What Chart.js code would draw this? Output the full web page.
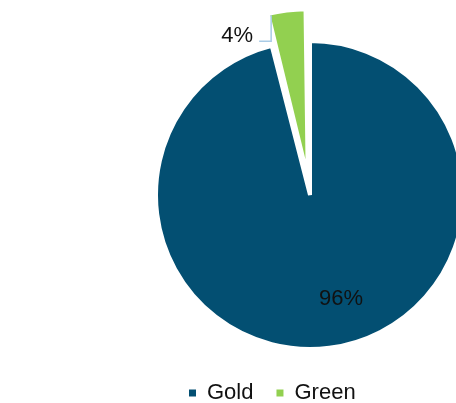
<!DOCTYPE html>
<html lang="en">
<head>
    <meta charset="UTF-8">
    <title>Gold vs Green</title>
    <style>
        html, body { margin: 0; padding: 0; background: #fff; overflow: hidden; }
        #wrap { width: 456px; height: 403px; overflow: hidden; }
    </style>
</head>
<body>
    <div id="wrap">
        <canvas id="pieChart" width="456" height="414"></canvas>
    </div>

    <script src="https://cdn.jsdelivr.net/npm/chart.js"></script>
    <script>
        // Share of each category, in percent
        var categories = ["Gold", "Green"];
        var shares = [96, 4];

        var labelFont = '22px "Liberation Sans", Arial, sans-serif';

        // Percent labels: inside for the big slice, elbow leader line for the small one
        var sliceLabels = {
            id: 'sliceLabels',
            afterDatasetsDraw: function (chart) {
                var ctx = chart.ctx;
                var meta = chart.getDatasetMeta(0);
                ctx.save();
                ctx.font = labelFont;
                ctx.fillStyle = '#111';
                meta.data.forEach(function (arc, i) {
                    var p = arc.getProps(['x', 'y', 'startAngle', 'endAngle', 'outerRadius', 'circumference'], true);
                    var off = arc.options.offset || 0;
                    var mid = (p.startAngle + p.endAngle) / 2;
                    // same shift ArcElement uses for exploded slices
                    var shift = off / 4 * (2 - Math.sin(Math.min(Math.PI, p.circumference)));
                    var cx = p.x + Math.cos(mid) * shift;
                    var cy = p.y + Math.sin(mid) * shift;
                    var text = shares[i] + '%';

                    if (i === 0) {
                        var a = mid - 0.167;
                        var r = p.outerRadius * 0.70;
                        ctx.textAlign = 'center';
                        ctx.textBaseline = 'middle';
                        ctx.fillText(text, cx + Math.cos(a) * r, cy + Math.sin(a) * r + 1);
                    } else {
                        var b = p.startAngle + 0.02;
                        var ax = cx + Math.cos(b) * (p.outerRadius - 2);
                        var ay = cy + Math.sin(b) * (p.outerRadius - 2);
                        ctx.strokeStyle = '#a9cbe6';
                        ctx.lineWidth = 1.5;
                        ctx.beginPath();
                        ctx.moveTo(ax, ay);
                        ctx.lineTo(ax, ay + 26);
                        ctx.lineTo(ax - 12, ay + 26);
                        ctx.stroke();
                        ctx.textAlign = 'right';
                        ctx.textBaseline = 'alphabetic';
                        ctx.fillText(text, ax - 18, ay + 27);
                    }
                });
                ctx.restore();
            }
        };

        var baseLabels = Chart.overrides.doughnut.plugins.legend.labels.generateLabels;

        var ctx = document.getElementById("pieChart").getContext("2d");
        var myPie = new Chart(ctx, {
            type: 'pie',
            data: {
                labels: categories,
                datasets: [{
                    data: shares,
                    backgroundColor: ["#034f72", "#92d050"],
                    borderColor: "#ffffff",
                    borderWidth: 4,
                    offset: [0, 73],
                    clip: false
                }]
            },
            options: {
                responsive: false,
                animation: false,
                radius: 154,
                layout: {
                    padding: { left: 166, right: 2, top: 31, bottom: 0 }
                },
                plugins: {
                    tooltip: { enabled: false },
                    legend: {
                        position: 'bottom',
                        align: 'start',
                        labels: {
                            boxWidth: 7,
                            boxHeight: 7,
                            padding: 23,
                            color: '#111',
                            font: { family: '"Liberation Sans", Arial, sans-serif', size: 22 },
                            generateLabels: function (chart) {
                                return baseLabels(chart).map(function (item) {
                                    item.lineWidth = 0;
                                    return item;
                                });
                            }
                        }
                    }
                }
            },
            plugins: [sliceLabels]
        });
    </script>
</body>
</html>
